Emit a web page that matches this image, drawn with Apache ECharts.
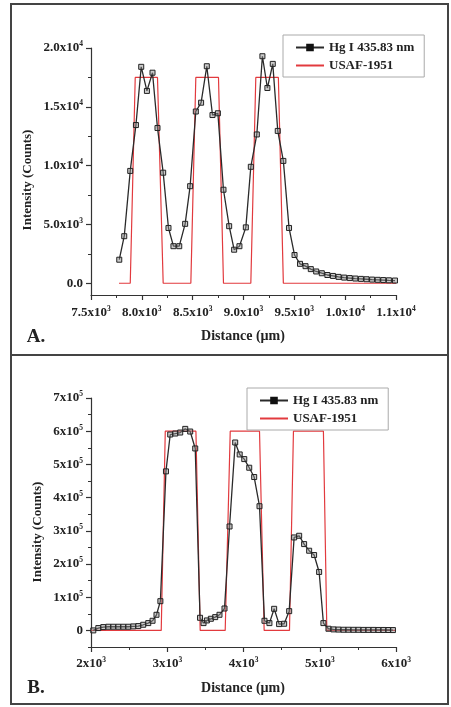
<!DOCTYPE html>
<html>
<head>
<meta charset="utf-8">
<script src="https://cdn.jsdelivr.net/npm/echarts@6/dist/echarts.min.js"></script>
<style>
  html, body { margin: 0; padding: 0; background: #fff; }
  #chart { width: 451px; height: 707px; }
</style>
</head>
<body>
<div id="chart"></div>
<script>
// Panel A: line profile across three bars (Hg I 435.83 nm) vs. USAF-1951 target
const distA = [7778, 7827, 7886, 7942, 7994, 8050, 8105, 8154, 8210, 8262, 8311, 8368, 8426, 8475,
  8531, 8583, 8639, 8695, 8748, 8803, 8859, 8908, 8960, 9023, 9072, 9131, 9186, 9235, 9288, 9337,
  9392, 9448, 9502, 9556, 9610, 9662, 9715, 9770, 9825, 9880, 9935, 9990, 10045, 10100, 10155,
  10210, 10265, 10320, 10375, 10430, 10490];
const hgA = [2000, 4000, 9550, 13450, 18400, 16350, 17900, 13200, 9400, 4700, 3150, 3150, 5050, 8250,
  14600, 15350, 18450, 14300, 14450, 7950, 4850, 2850, 3150, 4750, 9900, 12650, 19300, 16600, 18650, 12950,
  10400, 4700, 2400, 1650, 1450, 1200, 1000, 850, 700, 620, 540, 480, 440, 400, 370,
  340, 310, 290, 270, 250, 230];
const usafDistA = [7775, 7886, 7935, 8154, 8210, 8482, 8531, 8754, 8803, 9072, 9121, 9343, 9392, 10500];
const usafA = [0, 0, 17500, 17500, 0, 0, 17500, 17500, 0, 0, 17500, 17500, 0, 0];

// Panel B
const distB = [2030, 2096, 2161, 2227, 2292, 2358, 2423, 2489, 2554, 2620, 2685, 2751, 2807, 2859, 2910,
  2983, 3039, 3105, 3170, 3236, 3301, 3367, 3430, 3476, 3520, 3572, 3629, 3685, 3751, 3817,
  3891, 3950, 4010, 4075, 4140, 4210, 4275, 4340, 4402, 4467, 4533, 4599, 4664, 4730, 4795,
  4861, 4926, 4992, 5048, 5114, 5180, 5245, 5311, 5376, 5442, 5507, 5573, 5638, 5704, 5769,
  5835, 5900, 5960];
const hgB = [0, 7000, 10000, 11000, 11000, 11000, 11000, 11000, 12000, 13000, 17000, 22000, 29000, 47000, 88000,
  479000, 590000, 593000, 596000, 607000, 599000, 548000, 38000, 22000, 30000, 35000, 40000, 47000, 66000, 313000,
  566000, 530000, 516000, 490000, 462000, 374000, 29000, 22000, 65000, 19000, 20000, 58000, 280000, 285000, 260000,
  240000, 227000, 176000, 22000, 5000, 3000, 2500, 2000, 2000, 1800, 1800, 1500, 1500, 1500, 1300,
  1300, 1200, 1000];
const usafDistB = [2000, 2921, 2974, 3376, 3432, 3760, 3826, 4210, 4271, 4603, 4655, 5048, 5093, 6000];
const usafB = [0, 0, 600000, 600000, 0, 0, 600000, 600000, 0, 0, 600000, 600000, 0, 0];

// Tick values and their labels (mantissa x 10, exponent)
const yTicksA = [0, 5000, 10000, 15000, 20000];
const yLabelsA = [['0.0', ''], ['5.0x10', '3'], ['1.0x10', '4'], ['1.5x10', '4'], ['2.0x10', '4']];
const yMinorA = [2500, 7500, 12500, 17500];
const xTicksA = [7500, 8000, 8500, 9000, 9500, 10000, 10500];
const xLabelsA = [['7.5x10', '3'], ['8.0x10', '3'], ['8.5x10', '3'], ['9.0x10', '3'], ['9.5x10', '3'], ['1.0x10', '4'], ['1.1x10', '4']];

const yTicksB = [0, 100000, 200000, 300000, 400000, 500000, 600000, 700000];
const yLabelsB = [['0', ''], ['1x10', '5'], ['2x10', '5'], ['3x10', '5'], ['4x10', '5'], ['5x10', '5'], ['6x10', '5'], ['7x10', '5']];
const yMinorB = [-50000, 50000, 150000, 250000, 350000, 450000, 550000, 650000];
const xTicksB = [2000, 3000, 4000, 5000, 6000];
const xLabelsB = [['2x10', '3'], ['3x10', '3'], ['4x10', '3'], ['5x10', '3'], ['6x10', '3']];

const HG = 'Hg I 435.83 nm';
const USAF = 'USAF-1951';
const SERIF = '"Liberation Serif", "DejaVu Serif", serif';
const INK = '#222';
const RED = '#e23a3e';

const rich = {
  m: { fontFamily: SERIF, fontWeight: 'bold', fontSize: 13, color: INK, lineHeight: 15 },
  e: { fontFamily: SERIF, fontWeight: 'bold', fontSize: 7.5, color: INK, lineHeight: 8, verticalAlign: 'top' }
};
function labeler(ticks, labels) {
  return function (v) {
    const i = ticks.findIndex(t => Math.abs(t - v) < 1e-6);
    if (i < 0) return '';
    const l = labels[i];
    return l[1] ? '{m|' + l[0] + '}{e|' + l[1] + '}' : '{m|' + l[0] + '}';
  };
}
const axisLine = { show: true, onZero: false, lineStyle: { color: '#333', width: 1.2 } };

function xAxisCfg(grid, min, max, interval, ticks, labels, margin) {
  return {
    type: 'value', gridIndex: grid, min: min, max: max, interval: interval,
    axisLine: axisLine,
    axisTick: { show: true, inside: false, length: 5, lineStyle: { color: '#333', width: 1.2 } },
    minorTick: { show: true, splitNumber: 2, length: 3, lineStyle: { color: '#333', width: 1 } },
    splitLine: { show: false },
    axisLabel: { margin: margin, formatter: labeler(ticks, labels), rich: rich }
  };
}
function yAxisCfg(grid, min, max, ticks, labels) {
  return {
    type: 'value', gridIndex: grid, position: 'left', min: min, max: max,
    axisLine: axisLine,
    axisTick: { show: true, inside: false, length: 5, customValues: ticks, lineStyle: { color: '#333', width: 1.2 } },
    splitLine: { show: false },
    axisLabel: { margin: 8, customValues: ticks, formatter: labeler(ticks, labels), rich: rich }
  };
}
// second left axis on the same grid, carrying only the minor ticks
function yMinorCfg(grid, min, max, minor) {
  return {
    type: 'value', gridIndex: grid, position: 'left', offset: 0, min: min, max: max,
    axisLine: { show: false },
    axisTick: { show: true, inside: false, length: 3, customValues: minor, lineStyle: { color: '#333', width: 1 } },
    splitLine: { show: false },
    axisLabel: { show: false }
  };
}
function zip(xs, ys) { return xs.map((x, i) => [x, ys[i]]); }

function hgSeries(xi, yi, xs, ys) {
  return {
    name: HG, type: 'line', xAxisIndex: xi, yAxisIndex: yi, data: zip(xs, ys),
    symbol: 'rect', symbolSize: 5, showSymbol: true,
    lineStyle: { color: '#2a2a2a', width: 1.3 },
    itemStyle: { color: 'rgba(140,140,140,0.45)', borderColor: '#222', borderWidth: 1 },
    z: 3
  };
}
function usafSeries(xi, yi, xs, ys) {
  return {
    name: USAF, type: 'line', xAxisIndex: xi, yAxisIndex: yi, data: zip(xs, ys),
    symbol: 'none', lineStyle: { color: RED, width: 1.2 }, itemStyle: { color: RED }, z: 2
  };
}
function legendCfg(left, top) {
  return {
    orient: 'vertical', left: left, top: top,
    data: [
      { name: HG, itemStyle: { color: '#111', borderColor: '#111' } },
      { name: USAF, itemStyle: { opacity: 0 } }
    ],
    itemWidth: 28, itemHeight: 7, itemGap: 3,
    padding: [5, 10, 4, 12],
    borderColor: '#aaa', borderWidth: 1,
    selectedMode: false,
    textStyle: { fontFamily: SERIF, fontWeight: 'bold', fontSize: 13, color: INK, lineHeight: 15 }
  };
}
function textEl(str, x, y, size, rot) {
  return {
    type: 'text', x: x, y: y, rotation: rot || 0,
    style: { text: str, fontFamily: SERIF, fontWeight: 'bold', fontSize: size, fill: INK,
      align: 'center', verticalAlign: 'middle' }
  };
}

const chart = echarts.init(document.getElementById('chart'), null, { renderer: 'canvas' });
chart.setOption({
  animation: false,
  backgroundColor: '#fff',
  grid: [
    { left: 91, top: 48, width: 305, height: 247 },
    { left: 91, top: 398, width: 305, height: 249 }
  ],
  xAxis: [
    xAxisCfg(0, 7500, 10500, 500, xTicksA, xLabelsA, 10),
    xAxisCfg(1, 2000, 6000, 1000, xTicksB, xLabelsB, 9)
  ],
  yAxis: [
    yAxisCfg(0, -1000, 20000, yTicksA, yLabelsA),
    yMinorCfg(0, -1000, 20000, yMinorA),
    yAxisCfg(1, -50000, 700000, yTicksB, yLabelsB),
    yMinorCfg(1, -50000, 700000, yMinorB)
  ],
  legend: [legendCfg(283, 35), legendCfg(247, 388)],
  series: [
    usafSeries(0, 0, usafDistA, usafA),
    hgSeries(0, 0, distA, hgA),
    usafSeries(1, 2, usafDistB, usafB),
    hgSeries(1, 2, distB, hgB)
  ],
  graphic: [
    { type: 'rect', shape: { x: 11, y: 4, width: 437, height: 700 },
      style: { fill: 'none', stroke: '#444', lineWidth: 2 }, silent: true },
    { type: 'line', shape: { x1: 11, y1: 355, x2: 448, y2: 355 },
      style: { stroke: '#444', lineWidth: 2 }, silent: true },
    textEl('Intensity (Counts)', 28, 180, 13, Math.PI / 2),
    textEl('Distance (\u00b5m)', 243, 336.5, 14),
    textEl('A.', 36, 337, 19),
    textEl('Intensity (Counts)', 37.5, 532, 13, Math.PI / 2),
    textEl('Distance (\u00b5m)', 243, 688, 14),
    textEl('B.', 36, 688, 19)
  ]
});
</script>
</body>
</html>
